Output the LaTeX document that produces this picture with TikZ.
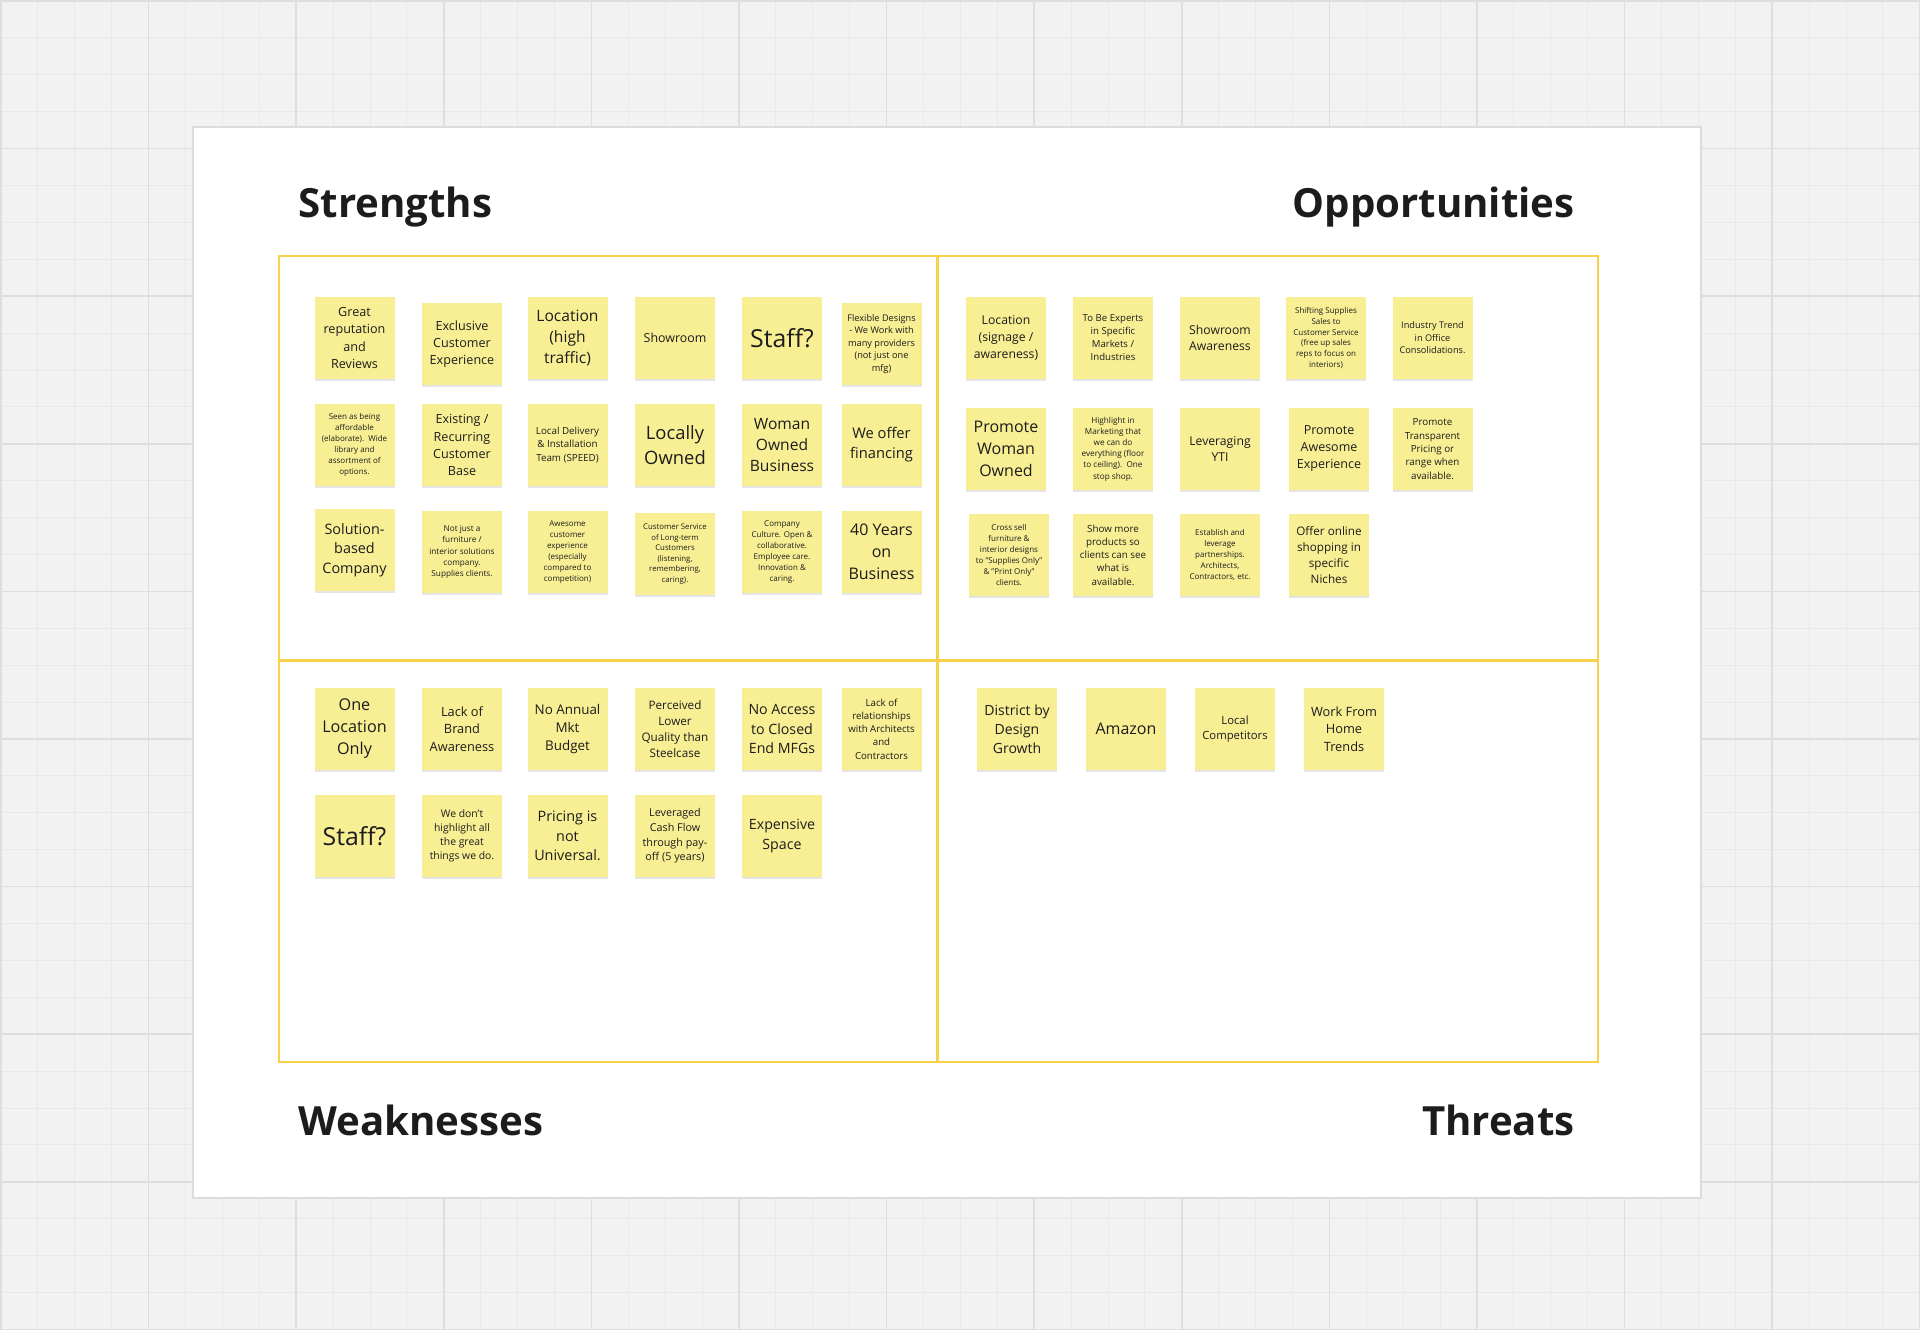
\documentclass[tikz,border=0pt]{standalone}
\usepackage{fontspec}
\setmainfont{Open Sans}
\usetikzlibrary{shadows}
\definecolor{Ink}{HTML}{1C1C1C}
\definecolor{Canvas}{HTML}{F2F2F2}
\definecolor{GridMinor}{HTML}{E8E8E8}
\definecolor{GridMajor}{HTML}{DEDEDE}
\definecolor{BoardLine}{HTML}{DCDCDC}
\definecolor{Frame}{HTML}{F8D04A}
\definecolor{Sticky}{HTML}{F8EF94}
\newcommand\nf[1]{\fontsize{#1}{\fpeval{1.36*#1}}\selectfont}
\tikzset{
  sticky/.style={rectangle,fill=Sticky,minimum width=40pt,minimum height=41pt,inner sep=0pt,align=center,text=Ink,
    drop shadow={shadow xshift=0pt,shadow yshift=-1.1pt,opacity=0.1,fill=black}},
  heading/.style={font=\bfseries\fontsize{20.1}{24}\selectfont,text=Ink,inner sep=0pt},
  frame/.style={draw=Frame,line width=1.1pt},
  gridminor/.style={draw=GridMinor,line width=0.5pt},
  gridmajor/.style={draw=GridMajor,line width=0.8pt}
}

\begin{document}
\begin{tikzpicture}[x=0.5pt,y=-0.5pt]
  \useasboundingbox (0,0) rectangle (1920,1330);
  % canvas and grid
  \fill[Canvas] (0,0) rectangle (1920,1330);
  \foreach \i in {0,...,52} \draw[gridminor] ({1+36.9*\i},0) -- ({1+36.9*\i},1330);
  \foreach \i in {0,...,36} \draw[gridminor] (0,{1+36.9*\i}) -- (1920,{1+36.9*\i});
  \foreach \i in {0,...,13} \draw[gridmajor] ({1+147.6*\i},0) -- ({1+147.6*\i},1330);
  \foreach \i in {0,...,9} \draw[gridmajor] (0,{1+147.6*\i}) -- (1920,{1+147.6*\i});
  % board
  \filldraw[fill=white,draw=BoardLine,line width=1pt] (193,127) rectangle (1701,1198);
  \draw[frame] (279,256) rectangle (1598,1062);
  \draw[frame] (937.5,256) -- (937.5,1062);
  \draw[frame] (279,660.5) -- (1598,660.5);

  \node[heading,anchor=base west] (strengths) at (298,217) {Strengths};
  \node[heading,anchor=base east] (opportunities) at (1575,217) {Opportunities};
  \node[heading,anchor=base west] (weaknesses) at (298,1135) {Weaknesses};
  \node[heading,anchor=base east] (threats) at (1575,1135) {Threats};

  % strengths
  \node[sticky,font=\nf{6.3}] (s1) at (354.5,338) {Great\\reputation\\and\\Reviews};
  \node[sticky,font=\nf{6.3}] (s2) at (462,344) {Exclusive\\Customer\\Experience};
  \node[sticky,font=\nf{7.8}] (s3) at (567.5,338) {Location\\(high\\traffic)};
  \node[sticky,font=\nf{6.2}] (s4) at (675,338) {Showroom};
  \node[sticky,font=\nf{12.4}] (s5) at (782,338) {Staff?};
  \node[sticky,font=\nf{4.6}] (s6) at (881.5,344) {Flexible Designs\\- We Work with\\many providers\\(not just one\\mfg)};
  \node[sticky,font=\nf{4}] (s7) at (354.5,445) {Seen as being\\affordable\\(elaborate).\ \ Wide\\library and\\assortment of\\options.};
  \node[sticky,font=\nf{6.3}] (s8) at (462,445) {Existing /\\Recurring\\Customer\\Base};
  \node[sticky,font=\nf{4.9}] (s9) at (567.5,445) {Local Delivery\\\& Installation\\Team (SPEED)};
  \node[sticky,font=\nf{9.2}] (s10) at (675,445) {Locally\\Owned};
  \node[sticky,font=\nf{7.8}] (s11) at (782,445) {Woman\\Owned\\Business};
  \node[sticky,font=\nf{7.35}] (s12) at (881.5,445) {We offer\\financing};
  \node[sticky,font=\nf{7.2}] (s13) at (354.5,550) {Solution-\\based\\Company};
  \node[sticky,font=\nf{4.1}] (s14) at (462,552) {Not just a\\furniture /\\interior solutions\\company.\\Supplies clients.};
  \node[sticky,font=\nf{4}] (s15) at (567.5,552) {Awesome\\customer\\experience\\(especially\\compared to\\competition)};
  \node[sticky,font=\nf{3.9}] (s16) at (675,554) {Customer Service\\of Long-term\\Customers\\(listening,\\remembering,\\caring).};
  \node[sticky,font=\nf{4}] (s17) at (782,552) {Company\\Culture. Open \&\\collaborative.\\Employee care.\\Innovation \&\\caring.};
  \node[sticky,font=\nf{8}] (s18) at (881.5,552) {40 Years\\on\\Business};

  % opportunities
  \node[sticky,font=\nf{6.1}] (o1) at (1006,338) {Location\\(signage /\\awareness)};
  \node[sticky,font=\nf{4.8}] (o2) at (1113,338) {To Be Experts\\in Specific\\Markets /\\Industries};
  \node[sticky,font=\nf{6.1}] (o3) at (1220,338) {Showroom\\Awareness};
  \node[sticky,font=\nf{4}] (o4) at (1326,338) {Shifting Supplies\\Sales to\\Customer Service\\(free up sales\\reps to focus on\\interiors)};
  \node[sticky,font=\nf{4.6}] (o5) at (1432.5,338) {Industry Trend\\in Office\\Consolidations.};
  \node[sticky,font=\nf{8}] (o6) at (1006,449) {Promote\\Woman\\Owned};
  \node[sticky,font=\nf{4.1}] (o7) at (1113,449) {Highlight in\\Marketing that\\we can do\\everything (floor\\to ceiling).\ \ One\\stop shop.};
  \node[sticky,font=\nf{6.1}] (o8) at (1220,449) {Leveraging\\YTI};
  \node[sticky,font=\nf{6.25}] (o9) at (1329,449) {Promote\\Awesome\\Experience};
  \node[sticky,font=\nf{4.9}] (o10) at (1432.5,449) {Promote\\Transparent\\Pricing or\\range when\\available.};
  \node[sticky,font=\nf{4}] (o11) at (1009,555) {Cross sell\\furniture \&\\interior designs\\to "Supplies Only"\\\& "Print Only"\\clients.};
  \node[sticky,font=\nf{4.9}] (o12) at (1113,555) {Show more\\products so\\clients can see\\what is\\available.};
  \node[sticky,font=\nf{4}] (o13) at (1220,555) {Establish and\\leverage\\partnerships.\\Architects,\\Contractors, etc.};
  \node[sticky,font=\nf{5.85}] (o14) at (1329,555) {Offer online\\shopping in\\specific\\Niches};

  % weaknesses
  \node[sticky,font=\nf{8.1}] (w1) at (354.5,729) {One\\Location\\Only};
  \node[sticky,font=\nf{6.4}] (w2) at (462,729) {Lack of\\Brand\\Awareness};
  \node[sticky,font=\nf{6.7}] (w3) at (567.5,729) {No Annual\\Mkt\\Budget};
  \node[sticky,font=\nf{5.85}] (w4) at (675,729) {Perceived\\Lower\\Quality than\\Steelcase};
  \node[sticky,font=\nf{7.1}] (w5) at (782,729) {No Access\\to Closed\\End MFGs};
  \node[sticky,font=\nf{4.85}] (w6) at (881.5,729) {Lack of\\relationships\\with Architects\\and\\Contractors};
  \node[sticky,font=\nf{12.4}] (w7) at (354.5,836) {Staff?};
  \node[sticky,font=\nf{5.2}] (w8) at (462,836) {We don't\\highlight all\\the great\\things we do.};
  \node[sticky,font=\nf{7.2}] (w9) at (567.5,836) {Pricing is\\not\\Universal.};
  \node[sticky,font=\nf{5.4}] (w10) at (675,836) {Leveraged\\Cash Flow\\through pay-\\off (5 years)};
  \node[sticky,font=\nf{7.1}] (w11) at (782,836) {Expensive\\Space};

  % threats
  \node[sticky,font=\nf{7}] (t1) at (1017,729) {District by\\Design\\Growth};
  \node[sticky,font=\nf{8}] (t2) at (1126,729) {Amazon};
  \node[sticky,font=\nf{5.65}] (t3) at (1235,729) {Local\\Competitors};
  \node[sticky,font=\nf{6.4}] (t4) at (1344,729) {Work From\\Home\\Trends};
\end{tikzpicture}
\end{document}
